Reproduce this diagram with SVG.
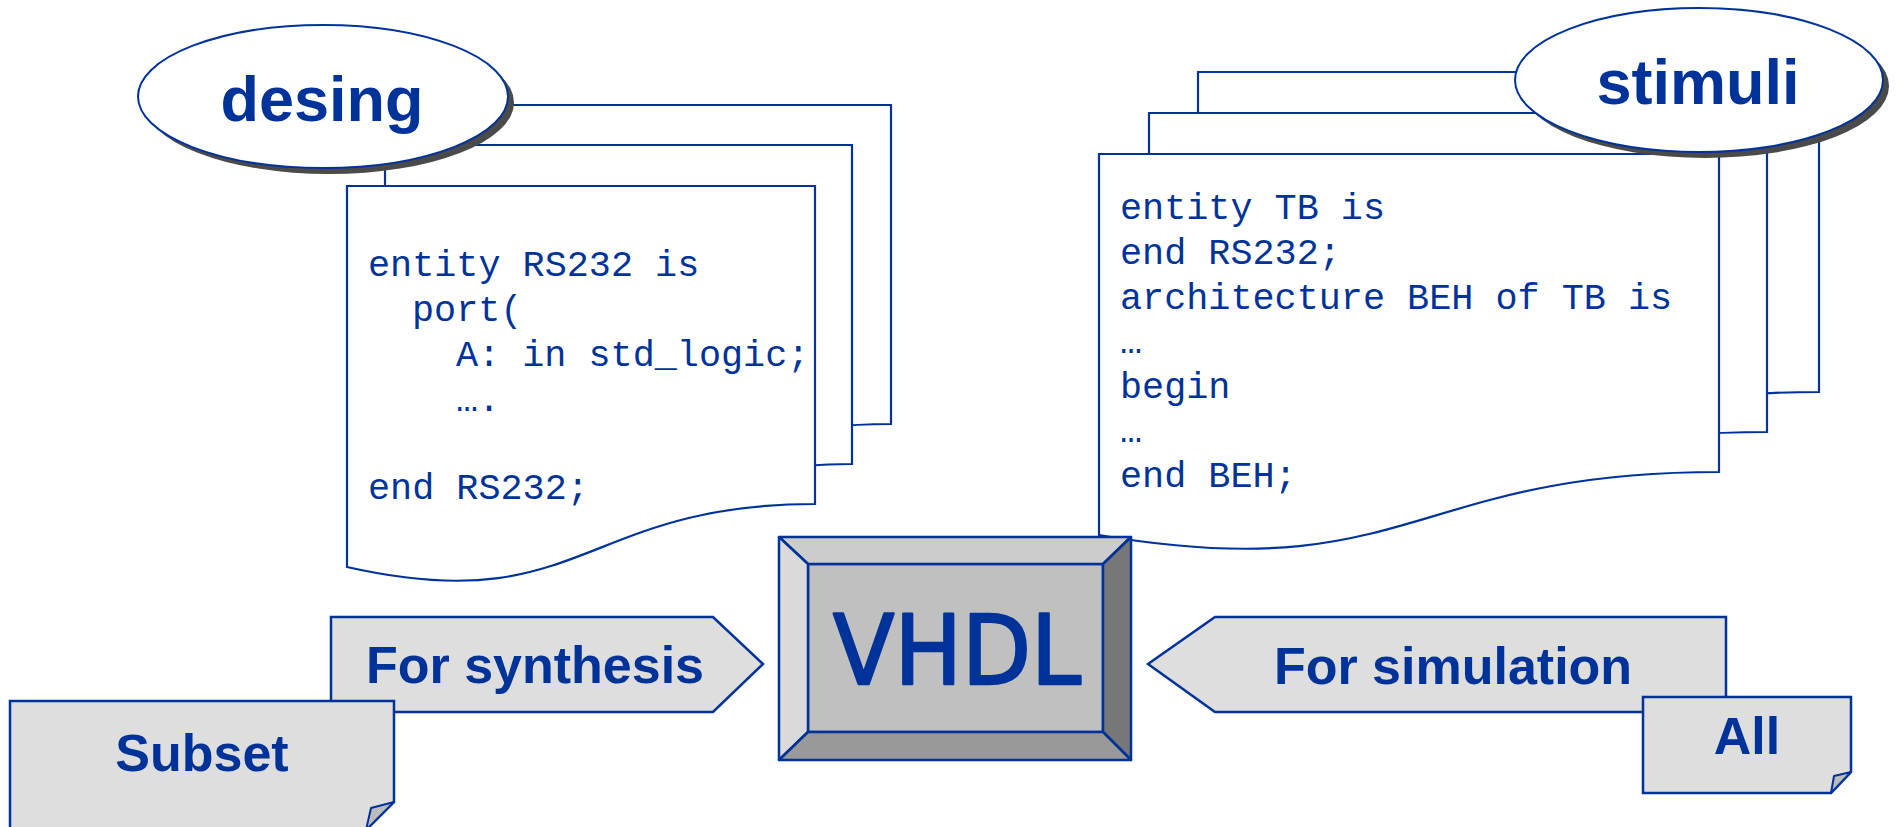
<svg xmlns="http://www.w3.org/2000/svg" width="1896" height="827" viewBox="0 0 1896 827">
  <style>
    .ink { fill: #003399; }
    .page { fill: #ffffff; stroke: #003399; stroke-width: 2.2; }
    .code { font-family: "Liberation Mono", "Courier New", monospace; font-size: 36.8px; fill: #003399; }
    .label { font-family: "Liberation Sans", Arial, sans-serif; font-weight: bold; fill: #003399; text-anchor: middle; }
    .bubble { fill: #ffffff; stroke: #003399; stroke-width: 2; }
    .shadow { fill: #4a4a4a; }
    .tag { fill: #dedede; stroke: #003399; stroke-width: 2.5; }
    .fold { fill: #bcbcbc; stroke: #003399; stroke-width: 2; stroke-linejoin: round; }
    .bevel { stroke: #003399; stroke-width: 2.5; stroke-linejoin: round; }
  </style>

  <!-- design source: stack of three document pages -->
  <g id="design-doc">
    <path class="page" d="M423,105 H891 V424 C657,424 657,540 423,487 Z"/>
    <path class="page" d="M385,145 H852 V464 C618,464 618,580 385,527 Z"/>
    <path class="page" d="M347,186 H815 V504 C581,504 581,620 347,567 Z"/>
    <text class="code" x="368" y="276">entity RS232 is</text>
    <text class="code" x="412" y="321">port(</text>
    <text class="code" x="456" y="366">A: in std_logic;</text>
    <text class="code" x="456" y="411">….</text>
    <text class="code" x="368" y="499">end RS232;</text>
  </g>

  <g id="design-title">
    <ellipse class="shadow" cx="329" cy="102.5" rx="185" ry="71.5"/>
    <ellipse class="bubble" cx="323" cy="96.5" rx="185" ry="71.5"/>
    <text class="label" x="322" y="121" font-size="63">desing</text>
  </g>

  <!-- testbench source: stack of three document pages -->
  <g id="stimuli-doc">
    <path class="page" d="M1198,72 H1819 V392 C1508,392 1508,508 1198,455 Z"/>
    <path class="page" d="M1149,113 H1767 V432 C1458,432 1458,548 1149,495 Z"/>
    <path class="page" d="M1099,154 H1719 V472 C1409,472 1409,588 1099,535 Z"/>
    <text class="code" x="1120" y="219">entity TB is</text>
    <text class="code" x="1120" y="264">end RS232;</text>
    <text class="code" x="1120" y="309">architecture BEH of TB is</text>
    <text class="code" x="1120" y="353">…</text>
    <text class="code" x="1120" y="398">begin</text>
    <text class="code" x="1120" y="442">…</text>
    <text class="code" x="1120" y="487">end BEH;</text>
  </g>

  <g id="stimuli-title">
    <ellipse class="shadow" cx="1705" cy="86" rx="184" ry="72"/>
    <ellipse class="bubble" cx="1699" cy="80" rx="184" ry="72"/>
    <text class="label" x="1698" y="104" font-size="63">stimuli</text>
  </g>

  <!-- bevelled VHDL button -->
  <g id="vhdl">
    <rect x="808" y="564" width="295" height="168" fill="#c0c0c0" class="bevel"/>
    <polygon class="bevel" fill="#cccccc" points="779,537 1131,537 1103,564 808,564"/>
    <polygon class="bevel" fill="#dadada" points="779,537 808,564 808,732 779,760"/>
    <polygon class="bevel" fill="#777777" points="1131,537 1131,760 1103,732 1103,564"/>
    <polygon class="bevel" fill="#999999" points="779,760 808,732 1103,732 1131,760"/>
    <text x="957" y="684" font-family="'DejaVu Sans', sans-serif" font-size="96" textLength="248" lengthAdjust="spacingAndGlyphs" text-anchor="middle" fill="#003399" stroke="#003399" stroke-width="2.5" stroke-linejoin="round">VHDL</text>
  </g>

  <g id="for-synthesis">
    <polygon class="tag" points="331,617 713,617 763,664 713,712 331,712"/>
    <text class="label" x="535" y="683" font-size="52">For synthesis</text>
  </g>

  <g id="for-simulation">
    <polygon class="tag" points="1148,664 1215,617 1726,617 1726,712 1215,712"/>
    <text class="label" x="1453" y="684" font-size="52">For simulation</text>
  </g>

  <g id="subset-note">
    <path class="tag" d="M10,701 H394 V802 L366,830 H10 Z"/>
    <path class="fold" d="M394,802 L371,808 L366,830 Z"/>
    <text class="label" x="202" y="771" font-size="52">Subset</text>
  </g>

  <g id="all-note">
    <path class="tag" d="M1643,697 H1851 V772 L1831,793 H1643 Z"/>
    <path class="fold" d="M1851,772 L1834,776 L1831,793 Z"/>
    <text class="label" x="1747" y="754" font-size="52">All</text>
  </g>
</svg>
